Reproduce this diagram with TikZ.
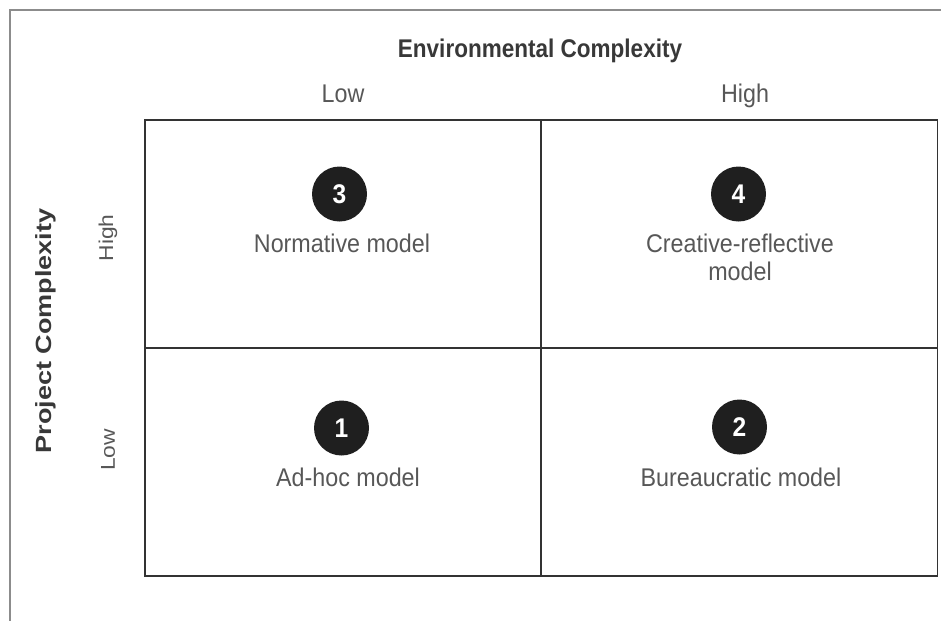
\documentclass[tikz,border=0pt]{standalone}
\usepackage{fontspec}
\newfontfamily\labfont[FakeStretch=0.91]{Liberation Sans}
\newfontfamily\titfont[FakeStretch=0.88]{Liberation Sans}
\newfontfamily\rotfont[FakeStretch=1.14]{Liberation Sans}
\newfontfamily\rottitfont[FakeStretch=1.23]{Liberation Sans}
\begin{document}
\begin{tikzpicture}[x=1pt,y=-1pt,
  cell/.style={draw=black!80,line width=1.8pt,minimum width=396pt,minimum height=228pt,inner sep=0pt},
  numc/.style={circle,fill=black!88,text=white,minimum size=55pt,inner sep=0pt,font=\labfont\bfseries\fontsize{27}{27}\selectfont},
  lab/.style={text=black!66,font=\labfont\fontsize{25.6}{28}\selectfont,inner sep=0pt,anchor=base},
  rlab/.style={text=black!66,font=\rotfont\fontsize{20}{24}\selectfont,inner sep=0pt,rotate=90},
  axt/.style={text=black!78,font=\titfont\bfseries\fontsize{25.6}{28}\selectfont,inner sep=0pt,anchor=base},
  raxt/.style={text=black!78,font=\rottitfont\bfseries\fontsize{22}{26}\selectfont,inner sep=0pt,rotate=90}]
\useasboundingbox (0,0) rectangle (941,621);
% frame
\coordinate (fa) at (941,10);
\coordinate (fb) at (10,10);
\coordinate (fc) at (10,621);
\draw[black!45,line width=1.2pt] (fa) -- (fb) -- (fc);
% cells
\node[cell] (q3) at (343,234) {};
\node[cell] (q4) at (739.5,234) {};
\node[cell] (q1) at (343,462) {};
\node[cell] (q2) at (739.5,462) {};
% axis titles
\node[axt] (et) at (540,57) {Environmental Complexity};
\node[lab] (elow) at (343,102) {Low};
\node[lab] (ehigh) at (745,102) {High};
\node[raxt] (pt) at (46,331) {Project Complexity};
\node[rlab] (phigh) at (108,238) {High};
\node[rlab] (plow) at (108,450) {Low};
% numbers
\node[numc] (c3) at (339.5,194) {3};
\node[numc] (c4) at (738.5,194) {4};
\node[numc] (c1) at (341.5,428) {1};
\node[numc] (c2) at (739.5,427) {2};
% labels
\node[lab] (l3) at (342,252) {Normative model};
\node[lab] (l4) at (740,252) {Creative-reflective};
\node[lab] (l4b) at (740,280) {model};
\node[lab] (l1) at (348,486) {Ad-hoc model};
\node[lab] (l2) at (741,486) {Bureaucratic model};
\end{tikzpicture}
\end{document}
